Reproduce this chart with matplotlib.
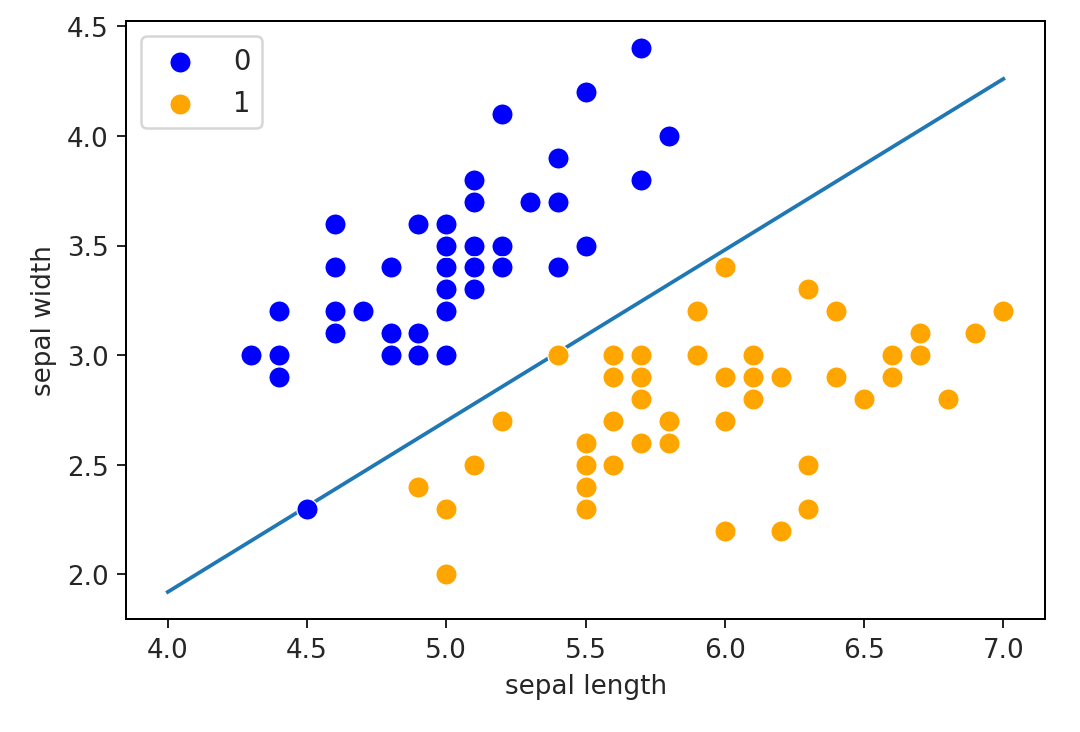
import numpy as np
import matplotlib.pyplot as plt

# iris: setosa (0) and versicolor (1), sepal length / sepal width
setosa_length = [5.1, 4.9, 4.7, 4.6, 5.0, 5.4, 4.6, 5.0, 4.4, 4.9,
                 5.4, 4.8, 4.8, 4.3, 5.8, 5.7, 5.4, 5.1, 5.7, 5.1,
                 5.4, 5.1, 4.6, 5.1, 4.8, 5.0, 5.0, 5.2, 5.2, 4.7,
                 4.8, 5.4, 5.2, 5.5, 4.9, 5.0, 5.5, 4.9, 4.4, 5.1,
                 5.0, 4.5, 4.4, 5.0, 5.1, 4.8, 5.1, 4.6, 5.3, 5.0]
setosa_width = [3.5, 3.0, 3.2, 3.1, 3.6, 3.9, 3.4, 3.4, 2.9, 3.1,
                3.7, 3.4, 3.0, 3.0, 4.0, 4.4, 3.9, 3.5, 3.8, 3.8,
                3.4, 3.7, 3.6, 3.3, 3.4, 3.0, 3.4, 3.5, 3.4, 3.2,
                3.1, 3.4, 4.1, 4.2, 3.1, 3.2, 3.5, 3.6, 3.0, 3.4,
                3.5, 2.3, 3.2, 3.5, 3.8, 3.0, 3.8, 3.2, 3.7, 3.3]
versicolor_length = [7.0, 6.4, 6.9, 5.5, 6.5, 5.7, 6.3, 4.9, 6.6, 5.2,
                     5.0, 5.9, 6.0, 6.1, 5.6, 6.7, 5.6, 5.8, 6.2, 5.6,
                     5.9, 6.1, 6.3, 6.1, 6.4, 6.6, 6.8, 6.7, 6.0, 5.7,
                     5.5, 5.5, 5.8, 6.0, 5.4, 6.0, 6.7, 6.3, 5.6, 5.5,
                     5.5, 6.1, 5.8, 5.0, 5.6, 5.7, 5.7, 6.2, 5.1, 5.7]
versicolor_width = [3.2, 3.2, 3.1, 2.3, 2.8, 2.8, 3.3, 2.4, 2.9, 2.7,
                    2.0, 3.0, 2.2, 2.9, 2.9, 3.1, 3.0, 2.7, 2.2, 2.5,
                    3.2, 2.8, 2.5, 2.8, 2.9, 3.0, 2.8, 3.0, 2.9, 2.6,
                    2.4, 2.4, 2.7, 2.7, 3.0, 3.4, 3.1, 2.3, 3.0, 2.5,
                    2.6, 3.0, 2.6, 2.3, 2.7, 3.0, 2.9, 2.9, 2.5, 2.8]

# decision boundary end points
line_x = [4.0, 7.0]
line_y = [1.92, 4.26]

plt.rcParams['font.size'] = 10.5
plt.rcParams['text.color'] = '#262626'
plt.rcParams['axes.labelcolor'] = '#262626'
plt.rcParams['xtick.color'] = '#262626'
plt.rcParams['ytick.color'] = '#262626'

fig = plt.figure(figsize=(6, 4.072), dpi=180, facecolor='w')
ax = fig.add_axes([0.1167, 0.154, 0.851, 0.816])

ax.scatter(setosa_length, setosa_width, s=72, color='blue',
           edgecolor='white', linewidth=0.5, label='0', zorder=3)
ax.scatter(versicolor_length, versicolor_width, s=72, color='orange',
           edgecolor='white', linewidth=0.5, label='1', zorder=3)
ax.plot(line_x, line_y, color='#1f77b4', lw=1.5)

ax.set_xlabel('sepal length')
ax.set_ylabel('sepal width')
ax.set_xticks(np.arange(4.0, 7.01, 0.5))
ax.set_yticks(np.arange(2.0, 4.51, 0.5))
ax.legend(loc='upper left', fontsize=11, handletextpad=0.95, borderaxespad=0.55)

plt.savefig('out.png', dpi=180)
